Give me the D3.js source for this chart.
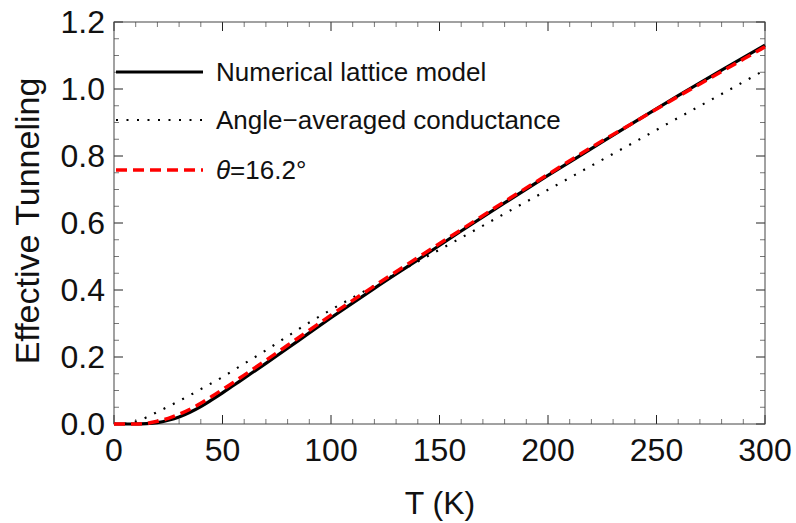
<!DOCTYPE html>
<html>
<head>
<meta charset="utf-8">
<script src="https://cdn.jsdelivr.net/npm/d3@7"></script>
<style>
  body { margin: 0; background: #fff; }
  svg text { font-family: "Liberation Sans", Arial, sans-serif; fill: #111; }
</style>
</head>
<body>
<svg id="chart" width="796" height="523"></svg>
<script>
// --- data ---
const temps = [0, 5, 10, 15, 20, 25, 30, 35, 40, 45, 50, 55, 60, 70, 80, 90, 100, 120, 140, 160, 180, 200, 220, 240, 260, 280, 300];
const latticeModel = [0, 0, 0, 0.001, 0.004, 0.011, 0.021, 0.035, 0.052, 0.072, 0.093, 0.115, 0.137, 0.181, 0.226, 0.272, 0.317, 0.405, 0.49, 0.576, 0.66, 0.742, 0.822, 0.902, 0.98, 1.056, 1.131];
const angleAveraged = [0, 0.001, 0.007, 0.02, 0.036, 0.052, 0.069, 0.086, 0.104, 0.122, 0.14, 0.16, 0.18, 0.22, 0.262, 0.303, 0.341, 0.413, 0.485, 0.556, 0.628, 0.699, 0.771, 0.842, 0.914, 0.985, 1.057];
const theta162 = [0, 0, 0, 0.002, 0.008, 0.017, 0.029, 0.044, 0.062, 0.082, 0.103, 0.124, 0.146, 0.19, 0.235, 0.28, 0.325, 0.412, 0.497, 0.58, 0.664, 0.745, 0.826, 0.902, 0.978, 1.052, 1.126];

const xTicks = [0, 50, 100, 150, 200, 250, 300];
const yTicks = [0, 0.2, 0.4, 0.6, 0.8, 1.0, 1.2];
const legendLabels = ["Numerical lattice model", "Angle\u2212averaged conductance", "\u03B8=16.2\u00B0"];

const svg = d3.select("#chart");
const frame = { left: 114, right: 765, top: 22, bottom: 424 };

const x = d3.scaleLinear().domain([0, 300]).range([frame.left, frame.right]);
const y = d3.scaleLinear().domain([0, 1.2]).range([frame.bottom, frame.top]);

// frame ticks (inward, all four sides)
const minorX = d3.range(0, 301, 10).filter(v => v % 50 !== 0);
const minorY = d3.range(0, 25).map(i => +(i * 0.05).toFixed(2)).filter(v => Math.round(v * 100) % 20 !== 0);

const tickG = svg.append("g");
function tickLines(vals, len, color, horiz) {
    vals.forEach(v => {
        if (horiz) {
            tickG.append("line").attr("x1", x(v)).attr("x2", x(v)).attr("y1", frame.bottom).attr("y2", frame.bottom - len).attr("stroke", color);
            tickG.append("line").attr("x1", x(v)).attr("x2", x(v)).attr("y1", frame.top).attr("y2", frame.top + len).attr("stroke", color);
        } else {
            tickG.append("line").attr("x1", frame.left).attr("x2", frame.left + len).attr("y1", y(v)).attr("y2", y(v)).attr("stroke", color);
            tickG.append("line").attr("x1", frame.right).attr("x2", frame.right - len).attr("y1", y(v)).attr("y2", y(v)).attr("stroke", color);
        }
    });
}
tickLines(minorX, 5, "#777", true);
tickLines(xTicks, 9, "#222", true);
tickLines(minorY, 5, "#777", false);
tickLines(yTicks, 9, "#222", false);

svg.append("rect")
    .attr("x", frame.left).attr("y", frame.top)
    .attr("width", frame.right - frame.left).attr("height", frame.bottom - frame.top)
    .attr("fill", "none").attr("stroke", "#444").attr("stroke-width", 1);

// tick labels
svg.append("g").selectAll("text").data(xTicks).join("text")
    .attr("x", d => x(d)).attr("y", frame.bottom + 37)
    .attr("text-anchor", "middle").attr("font-size", 32)
    .text(d => d);

svg.append("g").selectAll("text").data(yTicks).join("text")
    .attr("x", frame.left - 9).attr("y", d => y(d) + 11)
    .attr("text-anchor", "end").attr("font-size", 32)
    .text(d => d.toFixed(1));

// axis titles
svg.append("text")
    .attr("x", 440).attr("y", 514)
    .attr("text-anchor", "middle").attr("font-size", 32)
    .text("T (K)");

svg.append("text")
    .attr("transform", `translate(39,221) rotate(-90)`)
    .attr("text-anchor", "middle").attr("font-size", 34)
    .text("Effective Tunneling");

// curves
const series = [
    { values: latticeModel, stroke: "#000", width: 3.2, dash: null },
    { values: angleAveraged, stroke: "#000", width: 2.2, dash: "2,8.5" },
    { values: theta162, stroke: "#f00", width: 3.5, dash: "11,6" }
];

const line = d3.line()
    .x((d, i) => x(temps[i]))
    .y(d => y(d))
    .curve(d3.curveMonotoneX);

const plot = svg.append("g");
series.forEach(s => {
    plot.append("path")
        .attr("d", line(s.values))
        .attr("fill", "none")
        .attr("stroke", s.stroke)
        .attr("stroke-width", s.width)
        .attr("stroke-dasharray", s.dash);
});

// legend
const legendY = [72, 120, 170];
const legend = svg.append("g");
series.forEach((s, i) => {
    legend.append("line")
        .attr("x1", 116).attr("x2", 203)
        .attr("y1", legendY[i]).attr("y2", legendY[i])
        .attr("stroke", s.stroke)
        .attr("stroke-width", s.width)
        .attr("stroke-dasharray", s.dash);
});
legend.append("text").attr("x", 216).attr("y", legendY[0] + 9).attr("font-size", 26).text(legendLabels[0]);
legend.append("text").attr("x", 216).attr("y", legendY[1] + 9).attr("font-size", 26).text(legendLabels[1]);
const th = legend.append("text").attr("x", 216).attr("y", legendY[2] + 9).attr("font-size", 26);
th.append("tspan").attr("font-style", "italic").text("\u03B8");
th.append("tspan").text("=16.2\u00B0");
</script>
</body>
</html>
